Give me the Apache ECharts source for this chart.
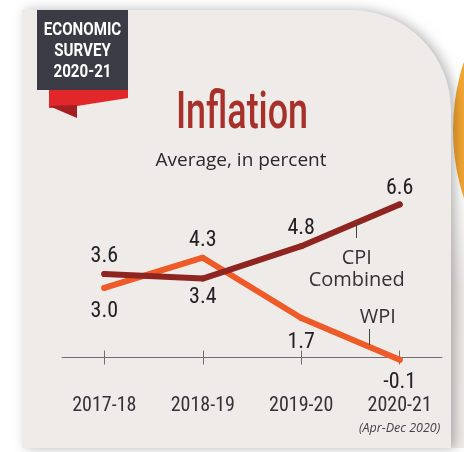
<!DOCTYPE html>
<html>
<head>
<meta charset="utf-8">
<script src="https://cdn.jsdelivr.net/npm/echarts@6/dist/echarts.min.js"></script>
<style>
  html, body { margin: 0; padding: 0; background: #ffffff; }
  #chart { width: 464px; height: 452px; }
</style>
</head>
<body>
<div id="chart"></div>
<script>
// Fiscal years on the x axis and the two inflation measures (average, %)
const years = ['2017-18', '2018-19', '2019-20', '2020-21'];
const lastYearNote = '(Apr-Dec 2020)';
const cpiCombined = [3.6, 3.4, 4.8, 6.6];
const wpi = [3.0, 4.3, 1.7, -0.1];

const NARROW = "'Liberation Sans Narrow', 'Roboto Condensed', Roboto, sans-serif";
const SANS = "'Open Sans', 'Noto Sans', sans-serif";

// value labels sit above or below each point
const cpiLabelSide = [['top', 3], ['bottom', 4.5], ['top', 4], ['top', 1.5]];
const wpiLabelSide = [['bottom', 9.5], ['top', 3.5], ['bottom', 10.5], ['bottom', 8.5]];

function points(values, sides) {
  return values.map((v, i) => ({
    value: [i, v],
    label: { position: sides[i][0], distance: sides[i][1] }
  }));
}

const chart = echarts.init(document.getElementById('chart'), null, { renderer: 'canvas' });

const valueLabel = {
  show: true,
  fontFamily: NARROW,
  fontSize: 22,
  color: '#222',
  formatter: p => p.value[1].toFixed(1)
};

const xBase = {
  type: 'value',
  min: -0.43,
  max: 3.43,
  position: 'bottom',
  splitLine: { show: false }
};

chart.setOption({
  backgroundColor: '#ffffff',
  animation: false,
  grid: { left: 62, right: 22, top: 195.1, height: 185.6 },
  xAxis: [
    Object.assign({}, xBase, {
      axisLine: { show: true, onZero: true, onZeroAxisIndex: 0, lineStyle: { color: '#6f6f6f', width: 1 } },
      axisTick: { show: true, inside: false, length: 7, customValues: [0, 1, 2, 3], lineStyle: { color: '#6f6f6f' } },
      axisLabel: {
        show: true,
        customValues: [0, 1, 2, 3],
        margin: 14,
        fontFamily: NARROW,
        fontSize: 20,
        color: '#333',
        formatter: v => {
          const i = Math.round(v);
          return i === years.length - 1 ? '{y|' + years[i] + '}\n{n|' + lastYearNote + '}' : '{y|' + years[i] + '}';
        },
        rich: {
          y: { fontFamily: NARROW, fontSize: 20, color: '#333', lineHeight: 22 },
          n: { fontFamily: SANS, fontStyle: 'italic', fontSize: 12.5, color: '#444', lineHeight: 24 }
        }
      }
    }),
    Object.assign({}, xBase, {
      axisLine: { show: false, onZero: true, onZeroAxisIndex: 0 },
      axisTick: { show: true, inside: true, length: 7, customValues: [0, 1, 2, 3], lineStyle: { color: '#6f6f6f' } },
      axisLabel: { show: false }
    })
  ],
  yAxis: { type: 'value', min: -1, max: 7, show: false },
  series: [
    {
      name: 'WPI',
      type: 'line',
      data: points(wpi, wpiLabelSide),
      symbol: 'circle',
      symbolSize: 6,
      itemStyle: { color: '#ee5a28' },
      lineStyle: { color: '#ee5a28', width: 6, cap: 'round', join: 'round' },
      label: valueLabel,
      z: 3,
      markLine: {
        silent: true,
        symbol: ['none', 'none'],
        label: { show: false },
        lineStyle: { color: '#444', width: 1, type: 'solid' },
        data: [[{ coord: [2.696, 1.23] }, { coord: [2.696, 0.54] }]]
      },
      markPoint: {
        silent: true,
        symbol: 'circle',
        symbolSize: 0,
        label: { show: true, position: 'inside', fontFamily: SANS, fontSize: 20, color: '#333', formatter: 'WPI' },
        data: [{ coord: [2.777, 1.75] }]
      }
    },
    {
      name: 'CPI Combined',
      type: 'line',
      data: points(cpiCombined, cpiLabelSide),
      symbol: 'circle',
      symbolSize: 6,
      itemStyle: { color: '#8e2520' },
      lineStyle: { color: '#8e2520', width: 6, cap: 'round', join: 'round' },
      label: valueLabel,
      z: 4,
      markLine: {
        silent: true,
        symbol: ['none', 'none'],
        label: { show: false },
        lineStyle: { color: '#444', width: 1, type: 'solid' },
        data: [[{ coord: [2.564, 5.84] }, { coord: [2.564, 5.15] }]]
      },
      markPoint: {
        silent: true,
        symbol: 'circle',
        symbolSize: 0,
        label: { show: true, position: 'inside', fontFamily: SANS, fontSize: 20, lineHeight: 22, color: '#333', formatter: 'CPI\nCombined' },
        data: [{ coord: [2.564, 3.8] }]
      }
    }
  ],
  graphic: [
    // soft grey backdrop to the right of the panel, lower half
    {
      type: 'rect', z: -11,
      shape: { x: 430, y: 180, width: 40, height: 268 },
      style: {
        fill: new echarts.graphic.LinearGradient(0, 0, 0, 1, [
          { offset: 0, color: '#ffffff' },
          { offset: 0.4, color: '#ebe8e5' },
          { offset: 1, color: '#eeebe8' }
        ])
      }
    },
    // orange disc peeking in at the right edge
    { type: 'circle', z: -10, x: 540, y: 130, scaleX: 87 / 140, shape: { cx: 0, cy: 0, r: 140 }, style: { fill: '#f2a531' } },
    // grey panel with a rounded top-right corner
    {
      type: 'rect', z: -9,
      shape: { x: 22, y: 10, width: 429, height: 438, r: [0, 100, 0, 0] },
      style: { fill: '#eeebe8', shadowBlur: 12, shadowOffsetX: 4, shadowColor: 'rgba(0,0,0,0.28)' }
    },
    // badge ribbon
    { type: 'polygon', z: -8, shape: { points: [[49, 88], [128, 88], [128, 98], [77, 106], [49, 108]] }, style: { fill: '#e2272b' } },
    { type: 'polygon', z: -8, shape: { points: [[49, 106], [77, 105], [77, 118]] }, style: { fill: '#a41f22' } },
    { type: 'rect', z: -7, shape: { x: 37, y: 10, width: 91, height: 80 }, style: { fill: '#3b3b45' } },
    { type: 'text', z: -6, x: 82.5, y: 30, scaleX: 0.84, style: { text: 'ECONOMIC', x: 0, y: 0, align: 'center', verticalAlign: 'middle', fontFamily: 'Roboto', fontWeight: 'bold', fontSize: 18, fill: '#ffffff' } },
    { type: 'text', z: -6, x: 82.5, y: 51, scaleX: 0.84, style: { text: 'SURVEY', x: 0, y: 0, align: 'center', verticalAlign: 'middle', fontFamily: 'Roboto', fontWeight: 'bold', fontSize: 18, fill: '#ffffff' } },
    { type: 'text', z: -6, x: 82.5, y: 72, scaleX: 0.84, style: { text: '2020-21', x: 0, y: 0, align: 'center', verticalAlign: 'middle', fontFamily: 'Roboto', fontWeight: 'bold', fontSize: 18, fill: '#ffffff' } },
    // title and subtitle
    { type: 'text', z: -6, x: 242, y: 115, scaleX: 0.69, style: { text: 'Inflation', x: 0, y: 0, align: 'center', verticalAlign: 'middle', fontFamily: 'Roboto', fontWeight: 500, fontSize: 52, fill: '#a8302b' } },
    { type: 'text', z: -6, x: 241, y: 161, style: { text: 'Average, in percent', x: 0, y: 0, align: 'center', verticalAlign: 'middle', fontFamily: SANS, fontSize: 19, fill: '#2a2a2a' } }
  ]
});
</script>
</body>
</html>
